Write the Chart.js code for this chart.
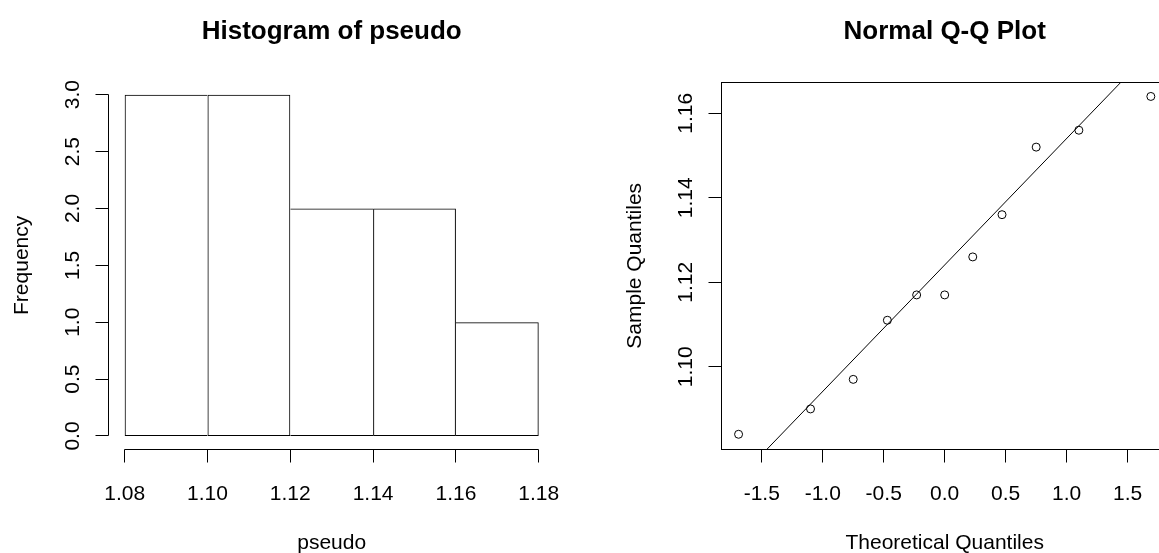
<!DOCTYPE html>
<html>
<head>
<meta charset="utf-8">
<title>Histogram of pseudo / Normal Q-Q Plot</title>
<script src="https://cdn.jsdelivr.net/npm/chart.js@4.4.0/dist/chart.umd.min.js"></script>
<style>
  html, body { margin: 0; padding: 0; background: #fff; overflow: hidden; }
  #wrap { position: relative; width: 1159px; height: 553px; overflow: hidden; background: #fff; }
  #histChart { position: absolute; left: 0; top: 0; }
  #qqChart { position: absolute; left: 580px; top: 0; }
</style>
</head>
<body>
<div id="wrap">
  <canvas id="histChart" width="580" height="553"></canvas>
  <canvas id="qqChart" width="620" height="553"></canvas>
</div>
<script>
// values
const histBreaks = [1.08, 1.10, 1.12, 1.14, 1.16, 1.18];
const histCounts = [3, 3, 2, 2, 1];
const histXTickLabels = ['1.08', '1.10', '1.12', '1.14', '1.16', '1.18'];
const histYTickLabels = ['0.0', '0.5', '1.0', '1.5', '2.0', '2.5', '3.0'];

const qqTheoretical = [-1.69, -1.10, -0.75, -0.47, -0.23, 0.0, 0.23, 0.47, 0.75, 1.10, 1.69];
const qqSample = [1.084, 1.090, 1.097, 1.111, 1.117, 1.117, 1.126, 1.136, 1.152, 1.156, 1.164];
const qqLineX = [-2, 2];
const qqLineY = [1.0642, 1.1840];
const qqXTickLabels = ['-1.5', '-1.0', '-0.5', '0.0', '0.5', '1.0', '1.5'];
const qqYTickLabels = ['1.10', '1.12', '1.14', '1.16'];

const FONT = '"Liberation Sans", Arial, Helvetica, sans-serif';

const crisp = (v) => Math.floor(v) + 0.5;

// R-style axes: lines only between first and last tick, outward ticks, rotated y labels
function rAxesPlugin(opts) {
  return {
    id: 'rAxes',
    afterDraw(chart) {
      const ctx = chart.ctx;
      const area = chart.chartArea;
      const xs = chart.scales.x;
      const ys = chart.scales.y;
      const xPix = opts.xTicks.map((t) => xs.getPixelForValue(Number(t)));
      const yPix = opts.yTicks.map((t) => ys.getPixelForValue(Number(t)));
      const axisY = crisp(area.bottom);
      const axisX = crisp(area.left);

      ctx.save();
      ctx.strokeStyle = '#000';
      ctx.fillStyle = '#000';
      ctx.lineWidth = 1;

      if (opts.box) {
        ctx.strokeRect(axisX, crisp(area.top), area.right - area.left, axisY - crisp(area.top));
      }

      // x axis
      ctx.beginPath();
      ctx.moveTo(crisp(xPix[0]), axisY);
      ctx.lineTo(crisp(xPix[xPix.length - 1]), axisY);
      xPix.forEach((p) => {
        ctx.moveTo(crisp(p), axisY);
        ctx.lineTo(crisp(p), axisY + 13);
      });
      // y axis
      ctx.moveTo(axisX, crisp(yPix[0]));
      ctx.lineTo(axisX, crisp(yPix[yPix.length - 1]));
      yPix.forEach((p) => {
        ctx.moveTo(axisX, crisp(p));
        ctx.lineTo(axisX - 13, crisp(p));
      });
      ctx.stroke();

      ctx.font = '21px ' + FONT;
      ctx.textAlign = 'center';
      ctx.textBaseline = 'alphabetic';
      opts.xTicks.forEach((t, i) => ctx.fillText(t, xPix[i], 500));
      opts.yTicks.forEach((t, i) => {
        ctx.save();
        ctx.translate(area.left - 29, yPix[i]);
        ctx.rotate(-Math.PI / 2);
        ctx.fillText(t, 0, 0);
        ctx.restore();
      });

      const midX = (area.left + area.right) / 2;
      const midY = (area.top + area.bottom) / 2;
      ctx.fillText(opts.xTitle, midX, 549);
      ctx.save();
      ctx.translate(area.left - 80, midY);
      ctx.rotate(-Math.PI / 2);
      ctx.fillText(opts.yTitle, 0, 0);
      ctx.restore();

      ctx.font = 'bold 26px ' + FONT;
      ctx.fillText(opts.title, midX, 39);
      ctx.restore();
    },
  };
}

const commonOptions = {
  responsive: false,
  animation: false,
  devicePixelRatio: 1,
  events: [],
  plugins: { legend: { display: false }, tooltip: { enabled: false } },
};

// histogram
const binCenters = histCounts.map((_, i) => (histBreaks[i] + histBreaks[i + 1]) / 2);
const last = histCounts.length - 1;

// shared bar edges are drawn once, by the taller bar (R draws single 1px lines)
const barBorder = (c) => {
  const i = c.dataIndex;
  const v = histCounts[i];
  return {
    top: 1,
    bottom: 1,
    left: i === 0 || histCounts[i - 1] <= v ? 1 : 0,
    right: i === last || histCounts[i + 1] < v ? 1 : 0,
  };
};

new Chart(document.getElementById('histChart'), {
  type: 'bar',
  data: {
    datasets: [
      {
        data: histCounts.map((c, i) => ({ x: binCenters[i], y: c })),
        backgroundColor: 'rgba(255,255,255,0)',
        borderColor: '#000',
        borderSkipped: false,
        inflateAmount: 0,
        borderWidth: barBorder,
        barPercentage: 1,
        categoryPercentage: 1,
      },
    ],
  },
  options: {
    ...commonOptions,
    layout: { padding: { left: 108.1, right: 24.7, top: 81.05, bottom: 103.35 } },
    scales: {
      x: {
        type: 'linear',
        display: false,
        offset: false,
        min: 1.076,
        max: 1.184,
        afterBuildTicks: (s) => { s.ticks = histXTickLabels.map((t) => ({ value: Number(t) })); },
      },
      y: { type: 'linear', display: false, min: -0.12, max: 3.12 },
    },
  },
  plugins: [rAxesPlugin({
    xTicks: histXTickLabels,
    yTicks: histYTickLabels,
    title: 'Histogram of pseudo',
    xTitle: 'pseudo',
    yTitle: 'Frequency',
    box: false,
  })],
});

// normal Q-Q plot
new Chart(document.getElementById('qqChart'), {
  type: 'scatter',
  data: {
    datasets: [
      {
        type: 'scatter',
        data: qqTheoretical.map((x, i) => ({ x, y: qqSample[i] })),
        pointRadius: 4,
        pointBorderWidth: 1,
        pointBorderColor: '#000',
        pointBackgroundColor: 'rgba(0,0,0,0)',
      },
      {
        type: 'line',
        data: qqLineX.map((x, i) => ({ x, y: qqLineY[i] })),
        borderColor: '#000',
        borderWidth: 1,
        pointRadius: 0,
        fill: false,
      },
    ],
  },
  options: {
    ...commonOptions,
    layout: { padding: { left: 141, right: 31.6, top: 82.3, bottom: 103.7 } },
    scales: {
      x: { type: 'linear', display: false, min: -1.834, max: 1.834 },
      y: { type: 'linear', display: false, min: 1.08044, max: 1.16735 },
    },
  },
  plugins: [rAxesPlugin({
    xTicks: qqXTickLabels,
    yTicks: qqYTickLabels,
    title: 'Normal Q-Q Plot',
    xTitle: 'Theoretical Quantiles',
    yTitle: 'Sample Quantiles',
    box: true,
  })],
});
</script>
</body>
</html>
